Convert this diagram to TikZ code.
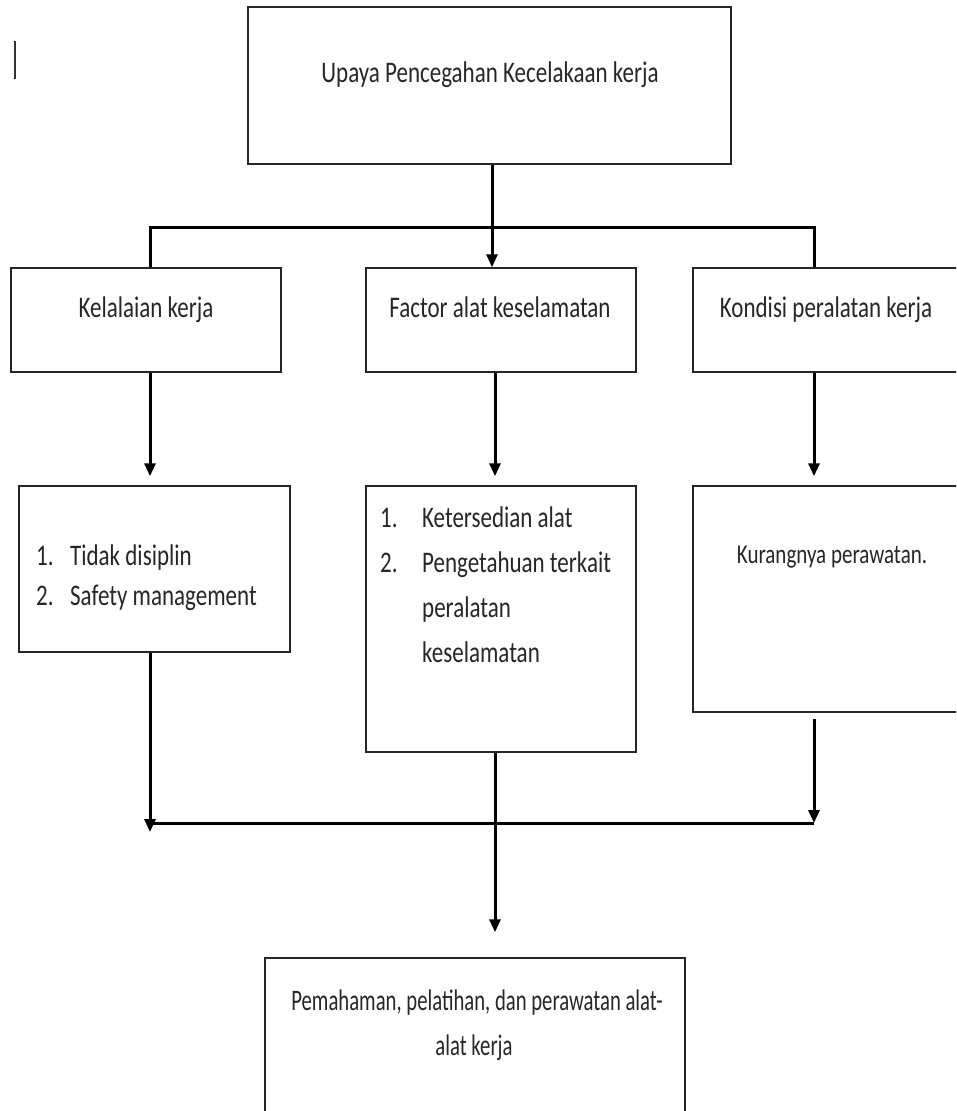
\documentclass[tikz,border=0pt]{standalone}
\usepackage{fontspec}
\setmainfont{Carlito}
\usetikzlibrary{arrows.meta}
\tikzset{
  box/.style={draw=black!85, line width=1.5pt, inner sep=0pt},
  link/.style={line width=3pt, line join=miter},
  arrow/.style={link, -{Triangle[length=13pt,width=11pt]}},
  txt/.style={inner sep=0pt, text=black!85, yscale=1.3, transform shape, font=\fontsize{23}{45}\selectfont},
  small/.style={txt, font=\fontsize{21}{30}\selectfont},
  narrow/.style={inner sep=0pt, text=black!85, yscale=1.44, transform shape, font=\fontsize{20.7}{30}\selectfont},
}

\begin{document}
\begin{tikzpicture}[x=1pt, y=-1pt]
    \useasboundingbox (0,0) rectangle (956,1111);
    \clip (0,0) rectangle (956,1111);
    \draw[line width=1.2pt, black!80] (15,41) -- (15,79);
    % boxes
    \node[box, minimum width=483, minimum height=157] (top) at (489.5,85.5) {};
    \node[box, minimum width=270, minimum height=104] (kel) at (146,320) {};
    \node[box, minimum width=270, minimum height=104] (fac) at (501,320) {};
    \node[box, minimum width=277, minimum height=104] (kon) at (831.5,320) {};
    \node[box, minimum width=271, minimum height=166] (tidak) at (154.5,569) {};
    \node[box, minimum width=270, minimum height=266] (keter) at (501,619) {};
    \node[box, minimum width=277, minimum height=226] (kurang) at (831.5,599) {};
    \node[box, minimum width=420, minimum height=202] (hasil) at (475,1059) {};
    % texts
    \node[txt, anchor=base] (tTop) at (490,82) {Upaya Pencegahan Kecelakaan kerja};
    \node[txt, anchor=base] (tKel) at (146,317) {Kelalaian kerja};
    \node[txt, anchor=base] (tFac) at (500,317) {Factor alat keselamatan};
    \node[txt, anchor=base] (tKon) at (826,317) {Kondisi peralatan kerja};
    \node[txt, anchor=base west] (tA1) at (36,565) {\makebox[34pt][l]{1.}Tidak disiplin};
    \node[txt, anchor=base west] (tA2) at (36,605) {\makebox[34pt][l]{2.}Safety management};
    \node[txt, anchor=base west] (tB1) at (380,527) {\makebox[42pt][l]{1.}Ketersedian alat};
    \node[txt, anchor=base west] (tB2) at (380,572) {\makebox[42pt][l]{2.}Pengetahuan terkait};
    \node[txt, anchor=base west] (tB3) at (422,617) {peralatan};
    \node[txt, anchor=base west] (tB4) at (422,662) {keselamatan};
    \node[small, anchor=base] (tC1) at (832,563) {Kurangnya perawatan.};
    \node[narrow, anchor=base] (tD1) at (477,1010) {Pemahaman, pelatihan, dan perawatan alat-};
    \node[narrow, anchor=base] (tD2) at (474,1055) {alat kerja};
    % connectors
    \coordinate (busL) at (150,227);
    \coordinate (busR) at (814,227);
    \coordinate (colM) at (495,0);
    \coordinate (lowL) at (150,823);
    \coordinate (lowR) at (814,823);
    \draw[link] (busL |- kel.north) -- (busL) -- (busR) -- (busR |- kon.north);
    \draw[arrow] (top.south -| 492,0) -- (kel.north -| 492,0);
    \draw[arrow] (kel.south -| busL) -- ([yshift=9pt]tidak.north -| busL);
    \draw[arrow] (fac.south -| colM) -- ([yshift=9pt]keter.north -| colM);
    \draw[arrow] (kon.south -| busR) -- ([yshift=9pt]kurang.north -| busR);
    \draw[link] (lowL) -- (lowR);
    \draw[arrow] (tidak.south -| lowL) -- ([yshift=-9pt]lowL);
    \draw[arrow] ([yshift=-6pt]kurang.south -| lowR) -- (lowR);
    \draw[arrow] (keter.south -| colM) -- ([yshift=25pt]hasil.north -| colM);
\end{tikzpicture}
\end{document}
